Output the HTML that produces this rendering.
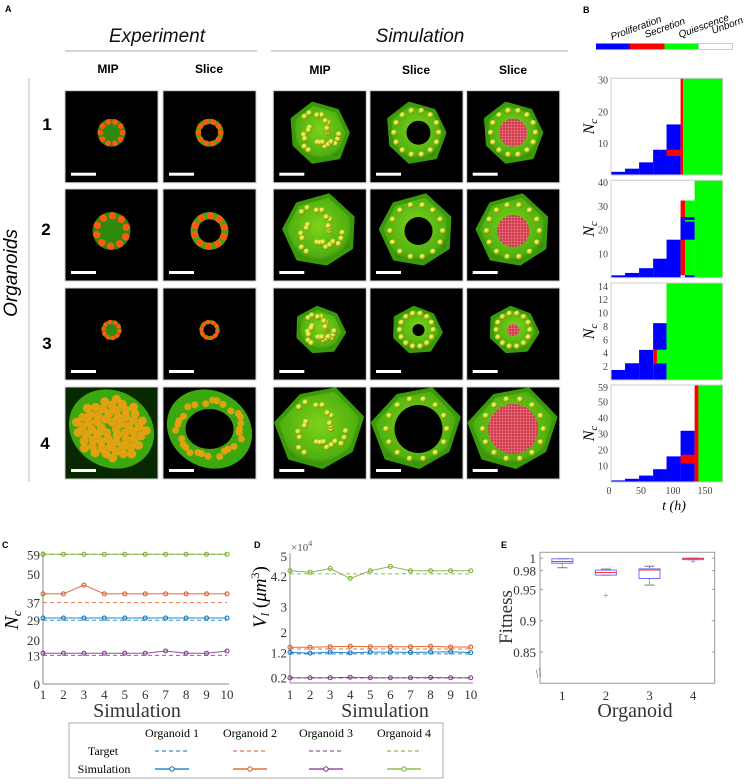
<!DOCTYPE html>
<html><head><meta charset="utf-8"><style>
html,body{margin:0;padding:0;background:#fff;}
svg text{font-family:"Liberation Serif",serif;}
.sans{font-family:"Liberation Sans","DejaVu Sans",sans-serif !important;}
</style></head><body>
<svg id="fig" width="748" height="779" viewBox="0 0 748 779" xmlns="http://www.w3.org/2000/svg">
<defs>
<radialGradient id="gShell" cx="50%" cy="45%" r="55%"><stop offset="0" stop-color="#7fd21a"/><stop offset="0.8" stop-color="#4fb010"/><stop offset="1" stop-color="#2e7a08"/></radialGradient>
<radialGradient id="gDot" cx="40%" cy="35%" r="60%"><stop offset="0" stop-color="#ffffa0"/><stop offset="0.6" stop-color="#c8d820"/><stop offset="1" stop-color="#7a8a10"/></radialGradient>
<pattern id="redDots" width="3" height="3" patternUnits="userSpaceOnUse"><rect width="3" height="3" fill="#c03040"/><circle cx="1.5" cy="1.5" r="1.2" fill="#f07080"/></pattern>
</defs>

<text class="sans" x="5" y="12" font-size="9" font-weight="bold">A</text>
<text class="sans" x="583" y="13" font-size="9" font-weight="bold">B</text>
<text class="sans" x="2" y="548" font-size="9" font-weight="bold">C</text>
<text class="sans" x="254" y="548" font-size="9" font-weight="bold">D</text>
<text class="sans" x="501" y="548" font-size="9" font-weight="bold">E</text>

<g>
<text class="sans" x="157" y="42" font-size="19" font-style="italic" text-anchor="middle" fill="#111">Experiment</text>
<line x1="65" y1="51" x2="257" y2="51" stroke="#bbb" stroke-width="1.2"/>
<text class="sans" x="420" y="42" font-size="19" font-style="italic" text-anchor="middle" fill="#111">Simulation</text>
<line x1="271" y1="51" x2="568" y2="51" stroke="#bbb" stroke-width="1.2"/>
<text class="sans" x="108" y="73" font-size="12" font-weight="bold" text-anchor="middle">MIP</text>
<text class="sans" x="209" y="73" font-size="12" font-weight="bold" text-anchor="middle">Slice</text>
<text class="sans" x="320" y="74" font-size="12" font-weight="bold" text-anchor="middle">MIP</text>
<text class="sans" x="416" y="74" font-size="12" font-weight="bold" text-anchor="middle">Slice</text>
<text class="sans" x="513" y="74" font-size="12" font-weight="bold" text-anchor="middle">Slice</text>
<line x1="29" y1="78" x2="29" y2="482" stroke="#bbb" stroke-width="1"/>
<text class="sans" x="17" y="273" font-size="19" font-style="italic" text-anchor="middle" transform="rotate(-90 17 273)">Organoids</text>
<text class="sans" x="47" y="130" font-size="17" font-weight="bold" text-anchor="middle">1</text>
<text class="sans" x="46" y="235" font-size="17" font-weight="bold" text-anchor="middle">2</text>
<text class="sans" x="47" y="349" font-size="17" font-weight="bold" text-anchor="middle">3</text>
<text class="sans" x="45" y="449" font-size="17" font-weight="bold" text-anchor="middle">4</text>
<g id="tiles"></g>
</g>

<g>
<rect x="596" y="43.5" width="34" height="6" fill="#0000ff"/>
<rect x="630" y="43.5" width="34.5" height="6" fill="#ff0000"/>
<rect x="664.5" y="43.5" width="34" height="6" fill="#00ff00"/>
<rect x="698.5" y="43.5" width="34" height="6" fill="#fff" stroke="#aaa" stroke-width="0.6"/>
<text class="sans" x="612" y="40" font-size="10" font-style="italic" transform="rotate(-20 612 40)">Proliferation</text>
<text class="sans" x="646" y="38" font-size="10" font-style="italic" transform="rotate(-20 646 38)">Secretion</text>
<text class="sans" x="680" y="38" font-size="10" font-style="italic" transform="rotate(-20 680 38)">Quiescence</text>
<text class="sans" x="713" y="34" font-size="10" font-style="italic" transform="rotate(-20 713 34)">Unborn</text>
</g>
<g id="panelB"></g>
<text x="609" y="494" font-size="10" fill="#444" text-anchor="middle">0</text>
<text x="641" y="494" font-size="10" fill="#444" text-anchor="middle">50</text>
<text x="673" y="494" font-size="10" fill="#444" text-anchor="middle">100</text>
<text x="705" y="494" font-size="10" fill="#444" text-anchor="middle">150</text>
<text x="674" y="510" font-size="14" font-style="italic" text-anchor="middle">t (h)</text>

<g id="panelC"></g>
<g id="panelD"></g>
<g id="panelE"></g>

<text x="137" y="717" font-size="20" text-anchor="middle" fill="#333">Simulation</text>
<text x="385" y="717" font-size="20" text-anchor="middle" fill="#333">Simulation</text>
<text x="635" y="717" font-size="20" text-anchor="middle" fill="#333">Organoid</text>
<text x="18" y="620" font-size="20" font-style="italic" text-anchor="middle" transform="rotate(-90 18 620)">N<tspan font-size="13" dy="3">c</tspan></text>
<text x="266" y="597" font-size="19" text-anchor="middle" transform="rotate(-90 266 597)"><tspan font-style="italic">V</tspan><tspan font-style="italic" font-size="12" dy="3">l</tspan><tspan dy="-3"> (</tspan><tspan font-style="italic">μm</tspan><tspan font-size="12" dy="-7">3</tspan><tspan dy="7">)</tspan></text>
<text x="512" y="617" font-size="19" text-anchor="middle" transform="rotate(-90 512 617)" fill="#333">Fitness</text>
<text x="291" y="551" font-size="11" fill="#555">×10<tspan font-size="8" dy="-5">4</tspan></text>

<g>
<rect x="69" y="723" width="374" height="55" fill="#fff" stroke="#999" stroke-width="0.8"/>
<text x="172" y="737" font-size="12" text-anchor="middle">Organoid 1</text>
<text x="250" y="737" font-size="12" text-anchor="middle">Organoid 2</text>
<text x="326" y="737" font-size="12" text-anchor="middle">Organoid 3</text>
<text x="404" y="737" font-size="12" text-anchor="middle">Organoid 4</text>
<text x="103" y="755" font-size="12" text-anchor="middle">Target</text>
<text x="104" y="773" font-size="12" text-anchor="middle">Simulation</text>
<g id="legendMarks"></g>
</g>
</svg>

<script>
// ---------- Panel C data ----------
const simIdx = [1,2,3,4,5,6,7,8,9,10];
const cTicks = [0,13,20,29,37,50,59];
const cOrg1 = [30,30,30,30,30,30,30,30,30,30];
const cOrg2 = [41,41,45,41,41,41,41,41,41,41];
const cOrg3 = [14,14,14,14,14,14,15,14,14,15];
const cOrg4 = [59,59,59,59,59,59,59,59,59,59];
const cTargets = [29,37,13,59];
// ---------- Panel D data (x10^4 um^3) ----------
const dTicks = [0.2,1.2,2,3,4.2,5];
const dOrg1 = [1.20,1.17,1.21,1.18,1.21,1.21,1.20,1.21,1.22,1.19];
const dOrg2 = [1.40,1.40,1.42,1.44,1.42,1.42,1.42,1.44,1.41,1.41];
const dOrg3 = [0.20,0.20,0.20,0.22,0.20,0.20,0.20,0.21,0.20,0.20];
const dOrg4 = [4.41,4.35,4.50,4.11,4.41,4.58,4.41,4.41,4.41,4.41];
const dTargets = [1.14,1.33,0.19,4.29];
// ---------- Panel E data ----------
const eCats = [1,2,3,4];
const eTicks = [0.85,0.9,0.95,0.98,1];
const eQ1 = [0.9918,0.9728,0.9674,0.9975];
const eMed = [0.9945,0.9770,0.9810,0.9990];
const eQ3 = [0.9989,0.9808,0.9828,0.9998];
const eLo = [0.9846,0.9728,0.9569,0.9975];
const eHi = [0.9989,0.9825,0.9870,1.0000];
const eOutliers = [[],[0.9401],[],[0.9947]];
// ---------- Panel B data: [t0,t1,n0,n1,state] ----------
const bTicks1 = [10,20,30];
const bTicks2 = [10,20,30,40];
const bTicks3 = [2,4,6,8,10,12,14];
const bTicks4 = [10,20,30,40,50,59];
const bCells1 = [[0,22,0,1,0],[22,44,0,2,0],[44,66,0,4,0],[66,87,0,8,0],[87,109,0,16,0],[87,109,6,8,1],[109,113,0,30.6,1],[113,175,0,30.6,2]];
const bCells2 = [[0,22,0,1,0],[22,44,0,2,0],[44,66,0,4,0],[66,87,0,8,0],[87,109,0,16,0],[109,116,1,32.5,1],[116,131,0,32.5,2],[131,175,0,41,2],[109,131,16,25.5,0],[116,131,23.6,24.3,2],[116,131,0,1,0]];
const bCells3 = [[0,22,0,1.5,0],[22,44,0,2.5,0],[44,66,0,4.5,0],[66,87,0,2.5,0],[66,87,4.5,8.5,0],[66,72,2.5,4.5,1],[72,87,2.5,4.5,2],[87,175,0,14.5,2]];
const bCells4 = [[0,22,0,1,0],[22,44,0,2,0],[44,66,0,4,0],[66,87,0,8,0],[87,109,0,16,0],[109,131,0,32,0],[109,131,11.5,17,1],[131,137,0,60.6,1],[137,175,0,60.6,2]];

const NS='http://www.w3.org/2000/svg';
function mk(tag,attrs,parent){const e=document.createElementNS(NS,tag);for(const k in attrs)e.setAttribute(k,attrs[k]);if(parent)parent.appendChild(e);return e;}
const colors=['#0072BD','#D95319','#7E2F8E','#77AC30'];

function lineChart(gid,pre,xf,yf,ticks,tickX,series,targets){
  const g=document.getElementById(gid);
  ticks.forEach(t=>{const tx=mk('text',{x:tickX,y:yf(t)+5,'font-size':13,'text-anchor':'end',fill:'#333'},g);tx.textContent=t;
    
    });
  simIdx.forEach(s=>{const tx=mk('text',{x:xf(s),y:699,'font-size':13,'text-anchor':'middle',fill:'#333'},g);tx.textContent=s;
    
    });
  targets.forEach((t,i)=>{const l=mk('line',{x1:xf(1),x2:xf(10),y1:yf(t),y2:yf(t),stroke:colors[i],'stroke-width':1,'stroke-dasharray':'4 3',opacity:0.8},g);
    
    });
  series.forEach((s,i)=>{
    const p=mk('polyline',{points:s.map((v,j)=>xf(simIdx[j])+','+yf(v)).join(' '),fill:'none',stroke:colors[i],'stroke-width':1,opacity:0.85},g);
    
    
    s.forEach((v,j)=>{const c=mk('circle',{cx:xf(simIdx[j]),cy:yf(v),r:2,fill:'none',stroke:colors[i],'stroke-width':1},g);
      
      });
  });
}

(function(){
  const g=document.getElementById('panelC');
  let a=mk('line',{x1:43,y1:551,x2:43,y2:684,stroke:'#888','stroke-width':1},g);
  
  
  a=mk('line',{x1:43,y1:684,x2:229,y2:684,stroke:'#888','stroke-width':1},g);
  
  
  lineChart('panelC','c',v=>43+(v-1)*(227-43)/9,v=>684-v*(684-554.3)/59,cTicks,40,[cOrg1,cOrg2,cOrg3,cOrg4],cTargets);
})();

(function(){
  const g=document.getElementById('panelD');
  let a=mk('line',{x1:290,y1:553,x2:290,y2:683,stroke:'#888','stroke-width':1},g);
  
  
  a=mk('line',{x1:290,y1:683,x2:473,y2:683,stroke:'#888','stroke-width':1},g);
  
  
  lineChart('panelD','d',v=>290+(v-1)*(470.7-290)/9,v=>682.8-v*25.4,dTicks,287,[dOrg1,dOrg2,dOrg3,dOrg4],dTargets);
})();

(function(){
  const g=document.getElementById('panelE');
  const x=c=>562.3+(c-1)*43.6;
  const y=v=>652-(v-0.85)*626;
  const fr=mk('rect',{x:540,y:552.3,width:174.7,height:131,fill:'none',stroke:'#999','stroke-width':1},g);
  
  
  eTicks.forEach(t=>{const tx=mk('text',{x:536,y:y(t)+5,'font-size':13,'text-anchor':'end',fill:'#333'},g);tx.textContent=t;
    
    
    mk('line',{x1:540,x2:543,y1:y(t),y2:y(t),stroke:'#999'},g);mk('line',{x1:711.7,x2:714.7,y1:y(t),y2:y(t),stroke:'#999'},g);});
  eCats.forEach((c,i)=>{
    const tx=mk('text',{x:x(c),y:700,'font-size':13,'text-anchor':'middle',fill:'#333'},g);tx.textContent=c;
    
    
    const cx=x(c),w=21;
    mk('line',{x1:cx,x2:cx,y1:y(eHi[i]),y2:y(eQ3[i]),stroke:'#777','stroke-dasharray':'2 1'},g);
    mk('line',{x1:cx,x2:cx,y1:y(eQ1[i]),y2:y(eLo[i]),stroke:'#777','stroke-dasharray':'2 1'},g);
    mk('line',{x1:cx-5,x2:cx+5,y1:y(eHi[i]),y2:y(eHi[i]),stroke:'#777'},g);
    mk('line',{x1:cx-5,x2:cx+5,y1:y(eLo[i]),y2:y(eLo[i]),stroke:'#777'},g);
    const b=mk('rect',{x:cx-w/2,y:y(eQ3[i]),width:w,height:Math.max(1,y(eQ1[i])-y(eQ3[i])),fill:'none',stroke:'#7070ff','stroke-width':1},g);
    
    
    const m=mk('line',{x1:cx-w/2,x2:cx+w/2,y1:y(eMed[i]),y2:y(eMed[i]),stroke:'#ff3030','stroke-width':1},g);
    
    
    eOutliers[i].forEach(o=>{const t=mk('text',{x:cx,y:y(o)+3,'font-size':9,'text-anchor':'middle',fill:'#ff3030'},g);t.textContent='+';
      
      });
  });
  const br=mk('text',{x:535,y:676,'font-size':12,fill:'#555',transform:'rotate(-30 540 672)'},g);br.textContent='//';
  
  
})();

(function(){
  const g=document.getElementById('panelB');
  const panels=[{top:78.3,bot:175,max:30.6,cells:bCells1,ticks:bTicks1},{top:180.3,bot:277.7,max:41,cells:bCells2,ticks:bTicks2},
    {top:283,bot:380,max:14.5,cells:bCells3,ticks:bTicks3},{top:385,bot:482,max:60.6,cells:bCells4,ticks:bTicks4}];
  const sc=['#0000ff','#ff0000','#00ff00'];
  const x=t=>611+t*(722.7-611)/175;
  panels.forEach((p,k)=>{
    const y=n=>p.bot-n*(p.bot-p.top)/p.max;
    p.cells.forEach(c=>{const r=mk('rect',{x:x(c[0]),y:y(c[3]),width:x(c[1])-x(c[0]),height:y(c[2])-y(c[3]),fill:sc[c[4]]},g);
      
      });
    const f=mk('rect',{x:611,y:p.top,width:111.7,height:p.bot-p.top,fill:'none',stroke:'#ccc','stroke-width':1},g);
    
    
    p.ticks.forEach(t=>{const tx=mk('text',{x:608,y:y(t)+3.5,'font-size':10,'text-anchor':'end',fill:'#444'},g);tx.textContent=t;
      
      });
    const cy=(p.top+p.bot)/2;
    const lab=mk('text',{x:594,y:cy,'font-size':16,'font-style':'italic','text-anchor':'middle',transform:'rotate(-90 594 '+cy+')'},g);
    lab.appendChild(document.createTextNode('N'));
    const ts=mk('tspan',{'font-size':11,dy:3},lab);ts.textContent='c';
    
    
  });
})();

(function(){
  const g=document.getElementById('legendMarks');
  const xs=[172,250,326,404];
  xs.forEach((cx,i)=>{
    const t=mk('line',{x1:cx-17,x2:cx+17,y1:751,y2:751,stroke:colors[i],'stroke-width':1.2,'stroke-dasharray':'4 3',opacity:0.8},g);
    
    
    const s=mk('line',{x1:cx-17,x2:cx+17,y1:769,y2:769,stroke:colors[i],'stroke-width':1.2},g);
    
    
    mk('circle',{cx:cx,cy:769,r:2.2,fill:'#fff',stroke:colors[i],'stroke-width':1},g);
  });
})();

(function(){
  const g=document.getElementById('tiles');
  const cols=[65,163,273.3,370,466.7];
  const rows=[90.7,189,288,387];
  const expR=[14,19,10,40];
  const simR=[28,33,21,38];
  const holeR=[12,14,6,24];
  const redR=[14,16,6,25];
  rows.forEach((ry,ri)=>{
    cols.forEach((cx,ci)=>{
      const w=93,h=92;
      const tile=mk('g',{},g);
      
      
      mk('rect',{x:cx,y:ry,width:w,height:h,fill:(ri==3&&ci==0)?'#082800':'#000',stroke:'#ccc','stroke-width':1},tile);
      const mx=cx+w/2,my=ry+h/2-4;
      if(ci<2){
        const R=expR[ri];
        if(ri==3){
          mk('ellipse',{cx:mx,cy:my,rx:R+4,ry:R-2,fill:'#3ca810',transform:'rotate(30 '+mx+' '+my+')'},tile);
          const n=ci==0?60:28;
          for(let k=0;k<n;k++){const a=k*2.4, rr=ci==0?(R-4)*Math.sqrt((k+1)/n):(R-10)+((k%3)*2);
            mk('circle',{cx:mx+rr*Math.cos(a),cy:my+rr*Math.sin(a)*0.85,r:ci==0?4.5:3.5,fill:'#f0a010',opacity:0.9},tile);}
          if(ci==1) mk('ellipse',{cx:mx,cy:my,rx:R-16,ry:R-20,fill:'#000'},tile);
        } else {
          mk('circle',{cx:mx,cy:my,r:R,fill:ci==0?'#2e8a0c':'#3ca810'},tile);
          if(ci==1) mk('circle',{cx:mx,cy:my,r:R*0.62,fill:'#000'},tile);
          for(let k=0;k<10;k++){const a=k*0.63+ri;mk('circle',{cx:mx+R*0.8*Math.cos(a),cy:my+R*0.8*Math.sin(a),r:R*0.15+0.8,fill:'#ff5a10'},tile);}
        }
      } else {
        const R=simR[ri];
        let pts=[];for(let k=0;k<7;k++){const a=k*2*Math.PI/7+ri*0.5;pts.push((mx+R*Math.cos(a)*(1+0.08*((k+ri)%3)))+','+(my+R*Math.sin(a)*(1+0.06*((k*2+ri)%3))));}
        mk('polygon',{points:pts.join(' '),fill:'url(#gShell)',stroke:'#3a9a0a','stroke-width':4,'stroke-linejoin':'round'},tile);
        if(ci==3) mk('circle',{cx:mx+2,cy:my,r:holeR[ri],fill:'#000'},tile);
        if(ci==4) mk('circle',{cx:mx,cy:my,r:redR[ri],fill:'url(#redDots)'},tile);
        const n=ci==2?24:14;
        for(let k=0;k<n;k++){const a=k*2*Math.PI/n*(ci==2?2.3:1), rr=ci==2?R*(0.3+0.55*((k*7)%10)/10):R*0.8;
          mk('circle',{cx:mx+rr*Math.cos(a),cy:my+rr*Math.sin(a),r:3,fill:'url(#gDot)'},tile);}
      }
      mk('rect',{x:cx+6,y:ry+h-10,width:25,height:3,fill:'#fff'},tile);
    });
  });
})();
</script>
</body></html>
